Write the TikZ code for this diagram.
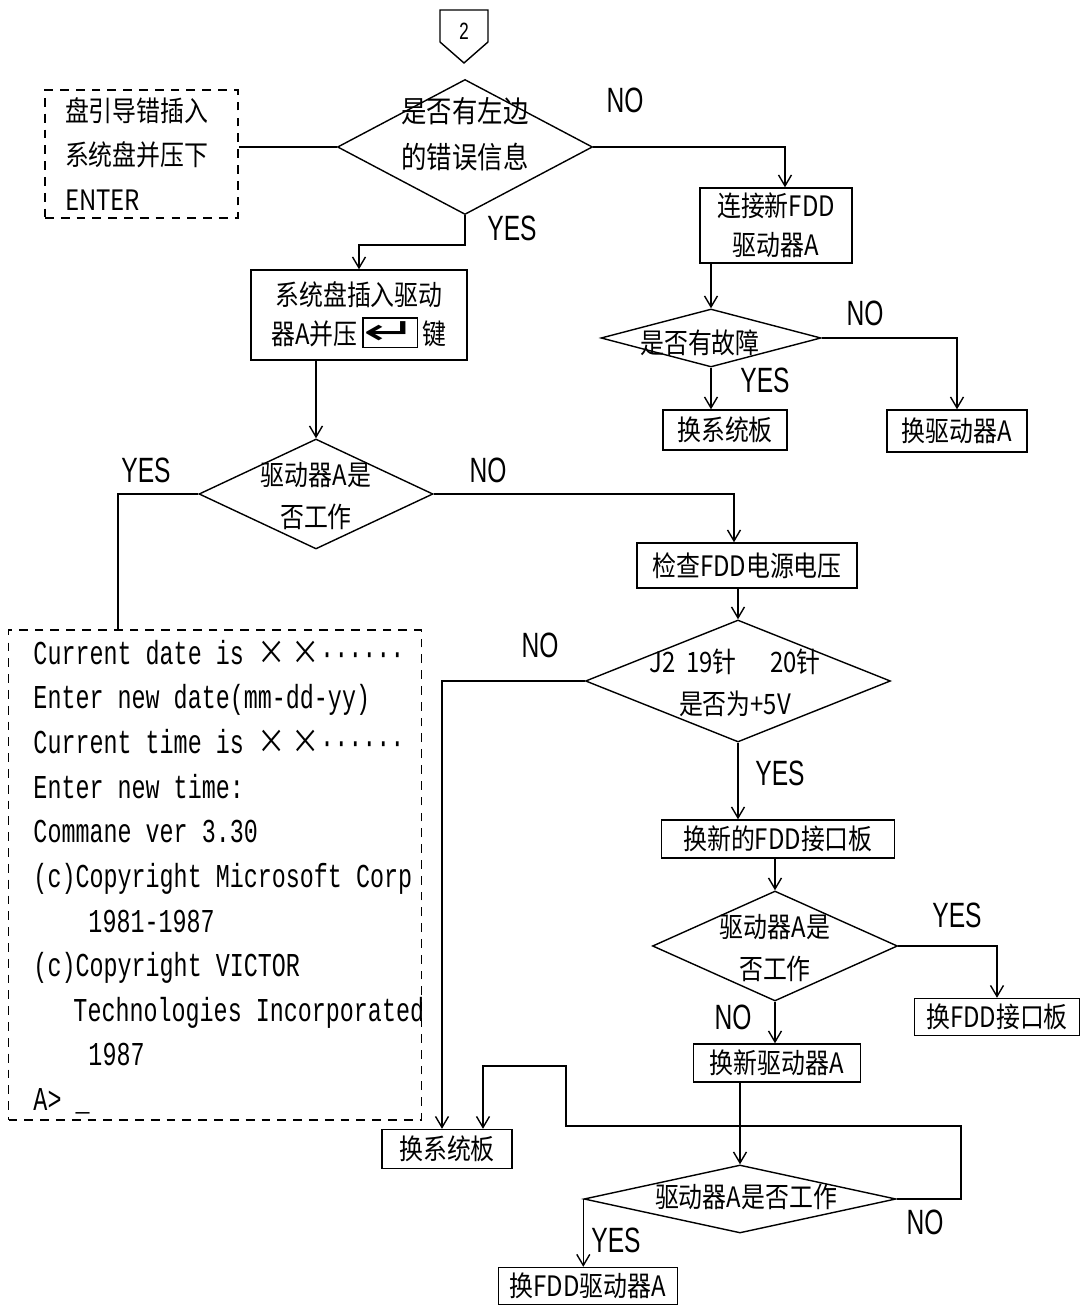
\documentclass[tikz,border=0pt]{standalone}
\usepackage{fontspec}
\usetikzlibrary{shapes.geometric,arrows.meta}
\newfontfamily\cjk[FakeStretch=0.85]{Noto Sans CJK SC}
\newfontfamily\dosfont[FakeStretch=0.7]{Liberation Mono}
\newfontfamily\handfont[FakeStretch=0.7]{Liberation Sans}
\newfontfamily\keyfont{DejaVu Sans}
\setlength\fboxrule{0.8pt}
\setlength\fboxsep{1.5pt}

\begin{document}
\begin{tikzpicture}[line width=0.8pt,
	box/.style={draw, font=\cjk\fontsize{16}{22}\selectfont, align=center, inner sep=2pt},
	dbox/.style={draw, dash pattern=on 5pt off 4pt},
	dec/.style={draw, diamond, inner sep=0pt},
	dtext/.style={font=\cjk\fontsize{16}{24}\selectfont, align=center, inner sep=0pt},
	yn/.style={font=\handfont\fontsize{20}{20}\selectfont, inner sep=0pt},
	arr/.style={-{Straight Barb[length=2.2mm,width=2.6mm]}}]

	\useasboundingbox (0,0) rectangle (21.72,26.14);

	% off-page connector
	\node[font=\dosfont\fontsize{14}{14}\selectfont] (c2) at (9.28,25.52) {2};
	\draw (8.8,25.94) -- (9.76,25.94) -- (9.76,25.3) -- (9.28,24.88) -- (8.8,25.3) -- cycle;

	% first question
	\node[dbox, draw, font=\cjk\fontsize{16}{25.5}\selectfont, text width=3.06cm, inner xsep=0.4cm, align=left, minimum height=2.56cm] (b1) at (2.83,23.06) {盘引导错插入\\系统盘并压下\\ENTER};
	\node[dec, minimum width=5.1cm, minimum height=2.7cm] (d1) at (9.3,23.2) {};
	\node[dtext, font=\cjk\fontsize{17}{26}\selectfont] (t1) at (9.3,23.45) {是否有左边\\的错误信息};
	\node[box, minimum width=4.32cm, minimum height=1.8cm] (b2) at (7.18,19.84) {系统盘插入驱动\\器A并压\,\fbox{\makebox[0.95cm]{\keyfont\scalebox{2.3}[1.3]{↵}}}\,键};
	\node[box, minimum width=3.04cm, minimum height=1.5cm] (b3) at (15.52,21.63) {连接新FDD\\驱动器A};
	\node[dec, minimum width=4.4cm, minimum height=1.16cm] (d3) at (14.22,19.38) {};
	\node[dtext] (t3) at (14.0,19.28) {是否有故障};
	\node[box, minimum width=2.48cm, minimum height=0.8cm] (b5) at (14.5,17.54) {换系统板};
	\node[box, minimum width=2.8cm, minimum height=0.84cm] (b6) at (19.14,17.52) {换驱动器A};

	% drive A test
	\node[dec, minimum width=4.68cm, minimum height=2.2cm] (d2) at (6.32,16.26) {};
	\node[dtext] (t2) at (6.32,16.22) {驱动器A是\\否工作};
	\node[box, minimum width=4.4cm, minimum height=0.9cm] (b4) at (14.94,14.83) {检查FDD电源电压};
	\node[dec, minimum width=6.1cm, minimum height=2.44cm] (d4) at (14.76,12.52) {};
	\node[dtext] (t4) at (14.7,12.48) {J2\ \ 19针\quad\ 20针\\是否为+5V};
	\node[box, minimum width=4.66cm, minimum height=0.76cm] (b7) at (15.56,9.36) {换新的FDD接口板};
	\node[dec, minimum width=4.9cm, minimum height=2.2cm] (d5) at (15.5,7.22) {};
	\node[dtext] (t5) at (15.5,7.18) {驱动器A是\\否工作};
	\node[box, minimum width=3.3cm, minimum height=0.74cm] (b8) at (19.94,5.8) {换FDD接口板};
	\node[box, minimum width=3.34cm, minimum height=0.76cm] (b10) at (15.54,4.88) {换新驱动器A};
	\node[dec, minimum width=6.24cm, minimum height=1.36cm] (d6) at (14.8,2.16) {};
	\node[dtext] (t6) at (14.92,2.2) {驱动器A是否工作};
	\node[box, minimum width=2.6cm, minimum height=0.78cm] (b9) at (8.94,3.16) {换系统板};
	\node[box, minimum width=3.58cm, minimum height=0.74cm] (b11) at (11.76,0.42) {换FDD驱动器A};

	% screen output
	\node[dbox, minimum width=8.26cm, minimum height=9.8cm] (con) at (4.3,8.64) {};
	\node[anchor=north west, align=left, inner sep=0pt, font=\dosfont\fontsize{19}{25.4}\selectfont] (contxt) at ([xshift=0.5cm,yshift=-0.2cm]con.north west) {Current date is {\cjk\fontsize{19}{19}\selectfont ×\,×}······\\
		Enter new date(mm-dd-yy)\\
		Current time is {\cjk\fontsize{19}{19}\selectfont ×\,×}······\\
		Enter new time:\\
		Commane ver 3.30\\
		(c)Copyright Microsoft Corp\\
		\hspace*{1.1cm}1981-1987\\
		(c)Copyright VICTOR\\
		\hspace*{0.8cm}Technologies Incorporated\\
		\hspace*{1.1cm}1987\\
		A> \_};

	% YES / NO
	\node[yn] (yes1) at (10.24,21.58) {YES};
	\node[yn] (no1) at (12.5,24.14) {NO};
	\node[yn] (no3) at (17.3,19.88) {NO};
	\node[yn] (yes3) at (15.3,18.54) {YES};
	\node[yn] (yes2) at (2.92,16.74) {YES};
	\node[yn] (no2) at (9.76,16.74) {NO};
	\node[yn] (no4) at (10.8,13.24) {NO};
	\node[yn] (yes4) at (15.6,10.68) {YES};
	\node[yn] (yes5) at (19.14,7.84) {YES};
	\node[yn] (no5) at (14.66,5.8) {NO};
	\node[yn] (yes6) at (12.32,1.34) {YES};
	\node[yn] (no6) at (18.5,1.7) {NO};

	% connectors
	\draw (d1.west) -- (d1.west -| b1.east);
	\draw[arr] (d1.east) -| ([xshift=0.18cm]b3.north);
	\draw[arr] (d1.south) -- ++(0,-0.6) -| (b2.north);
	\draw[arr] (b3.south -| d3.north) -- (d3.north);
	\draw[arr] (d3.south) -- (d3.south |- b5.north);
	\draw[arr] (d3.east) -| (b6.north);
	\draw[arr] (b2.south -| d2.north) -- (d2.north);
	\draw (d2.west) -| ([xshift=-1.94cm]con.north);
	\draw[arr] (d2.east) -| ([xshift=-0.26cm]b4.north);
	\draw[arr] (b4.south -| d4.north) -- (d4.north);
	\draw[arr] (d4.west) -| ([xshift=-0.1cm]b9.north);
	\draw[arr] (d4.south) -- (d4.south |- b7.north);
	\draw[arr] (b7.south -| d5.north) -- (d5.north);
	\draw[arr] (d5.east) -| (b8.north);
	\draw[arr] (d5.south) -- (d5.south |- b10.north);
	\draw[arr] (b10.south -| d6.north) -- (d6.north);
	\draw[arr] (d6.west) -- (d6.west |- b11.north);
	\draw[arr] (d6.east) -| (19.22,3.62) -| (11.32,4.82) -| ([xshift=0.72cm]b9.north);
\end{tikzpicture}
\end{document}
